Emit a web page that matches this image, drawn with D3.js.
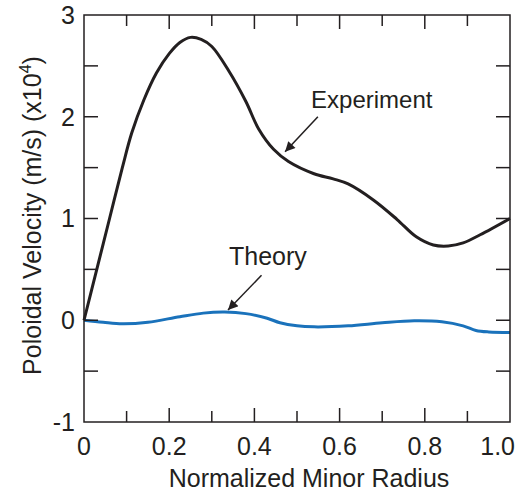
<!DOCTYPE html>
<html>
<head>
<meta charset="utf-8">
<script src="https://cdn.jsdelivr.net/npm/d3@7"></script>
<style>
  body { margin: 0; background: #fff; }
  text { font-family: "Liberation Sans", Arial, sans-serif; fill: #231f20; }
</style>
</head>
<body>
<div id="chart"></div>
<script>
// experiment (black) and theory (blue) poloidal velocity, units of 1e4 m/s
const expX = [0, 0.03, 0.06, 0.09, 0.112, 0.14, 0.17, 0.2, 0.225, 0.25, 0.275, 0.3, 0.34, 0.38, 0.41, 0.445, 0.48, 0.54, 0.585, 0.62, 0.68, 0.735, 0.78, 0.82, 0.855, 0.89, 0.93, 1.0];
const expY = [0, 0.5, 1.0, 1.5, 1.84, 2.16, 2.43, 2.62, 2.73, 2.78, 2.76, 2.69, 2.45, 2.15, 1.88, 1.68, 1.56, 1.44, 1.39, 1.34, 1.18, 0.99, 0.82, 0.74, 0.73, 0.76, 0.84, 1.0];
const theoX = [0, 0.045, 0.09, 0.15, 0.225, 0.28, 0.33, 0.38, 0.43, 0.46, 0.5, 0.54, 0.62, 0.7, 0.775, 0.84, 0.89, 0.92, 0.95, 1.0];
const theoY = [0, -0.02, -0.035, -0.02, 0.035, 0.07, 0.08, 0.065, 0.02, -0.025, -0.055, -0.065, -0.055, -0.025, -0.005, -0.015, -0.055, -0.1, -0.115, -0.12];

const xTicks = [0, 0.2, 0.4, 0.6, 0.8, 1.0];
const xTickLabels = ["0", "0.2", "0.4", "0.6", "0.8", "1.0"];
const xMinor = [0.1, 0.3, 0.5, 0.7, 0.9];
const yTicks = [-1, 0, 1, 2, 3];
const yMinor = [-0.5, 0.5, 1.5, 2.5];

// annotations: [label x, label baseline y, arrow tail x, tail y, tip x, tip y]
const annExp = ["Experiment", 0.533, 2.086, 0.549, 2.0, 0.472, 1.655];
const annTheo = ["Theory", 0.3404, 0.543, 0.4167, 0.442, 0.338, 0.10];

const W = 520, H = 494;
const x = d3.scaleLinear().domain([0, 1]).range([84, 510]);
const y = d3.scaleLinear().domain([-1, 3]).range([422, 15]);

const svg = d3.select("#chart").append("svg")
    .attr("width", W)
    .attr("height", H);

svg.append("defs").append("marker")
    .attr("id", "arrow")
    .attr("viewBox", "0 0 10 10")
    .attr("refX", 10).attr("refY", 5)
    .attr("markerUnits", "userSpaceOnUse")
    .attr("markerWidth", 13).attr("markerHeight", 10)
    .attr("orient", "auto")
    .append("path")
    .attr("d", "M0,0 L10,5 L0,10 z")
    .attr("fill", "#231f20");

const line = d3.line()
    .x(d => x(d[0]))
    .y(d => y(d[1]))
    .curve(d3.curveCatmullRom.alpha(0.5));

svg.append("path")
    .datum(theoX.map((v, i) => [v, theoY[i]]))
    .attr("d", line)
    .attr("fill", "none")
    .attr("stroke", "#1a72bb")
    .attr("stroke-width", 3);

svg.append("path")
    .datum(expX.map((v, i) => [v, expY[i]]))
    .attr("d", line)
    .attr("fill", "none")
    .attr("stroke", "#231f20")
    .attr("stroke-width", 3);

// frame
svg.append("rect")
    .attr("x", x(0)).attr("y", y(3))
    .attr("width", x(1) - x(0)).attr("height", y(-1) - y(3))
    .attr("fill", "none")
    .attr("stroke", "#231f20")
    .attr("stroke-width", 1.5);

// inward ticks on all four sides
const tk = svg.append("g").attr("stroke", "#231f20").attr("stroke-width", 1.5);
xTicks.concat(xMinor).forEach(t => {
    const len = xMinor.includes(t) ? 11 : 14;
    if (t === 0 || t === 1) return;
    tk.append("line").attr("x1", x(t)).attr("x2", x(t)).attr("y1", y(-1)).attr("y2", y(-1) - len);
    tk.append("line").attr("x1", x(t)).attr("x2", x(t)).attr("y1", y(3)).attr("y2", y(3) + len);
});
yTicks.concat(yMinor).forEach(t => {
    if (t === -1 || t === 3) return;
    tk.append("line").attr("x1", x(0)).attr("x2", x(0) + 14).attr("y1", y(t)).attr("y2", y(t));
    tk.append("line").attr("x1", x(1)).attr("x2", x(1) - 14).attr("y1", y(t)).attr("y2", y(t));
});

// tick labels
svg.append("g").selectAll("text")
    .data(xTicks)
    .join("text")
    .attr("x", (d, i) => i === xTicks.length - 1 ? x(d) + 5 : x(d))
    .attr("y", 455)
    .attr("text-anchor", (d, i) => i === xTicks.length - 1 ? "end" : "middle")
    .style("font-size", "25px")
    .text((d, i) => xTickLabels[i]);

svg.append("g").selectAll("text")
    .data(yTicks)
    .join("text")
    .attr("x", 75)
    .attr("y", d => y(d))
    .attr("dy", "0.35em")
    .attr("text-anchor", "end")
    .style("font-size", "25px")
    .text(d => d);

// axis titles
svg.append("text")
    .attr("x", (x(0) + x(1)) / 2 + 12)
    .attr("y", 487)
    .attr("text-anchor", "middle")
    .style("font-size", "25px")
    .text("Normalized Minor Radius");

const yt = svg.append("text")
    .attr("transform", `translate(41,${(y(3) + y(-1)) / 2 - 3}) rotate(-90)`)
    .attr("text-anchor", "middle")
    .style("font-size", "25px");
yt.append("tspan").text("Poloidal Velocity (m/s) (x10");
yt.append("tspan").attr("dy", -10).style("font-size", "16px").text("4");
yt.append("tspan").attr("dy", 10).text(")");

// annotations with arrows
[annExp, annTheo].forEach(a => {
    svg.append("text")
        .attr("x", x(a[1]))
        .attr("y", y(a[2]))
        .style("font-size", a === annExp ? "24px" : "25px")
        .text(a[0]);
    svg.append("line")
        .attr("x1", x(a[3])).attr("y1", y(a[4]))
        .attr("x2", x(a[5])).attr("y2", y(a[6]))
        .attr("stroke", "#231f20")
        .attr("stroke-width", 1.5)
        .attr("marker-end", "url(#arrow)");
});
</script>
</body>
</html>
